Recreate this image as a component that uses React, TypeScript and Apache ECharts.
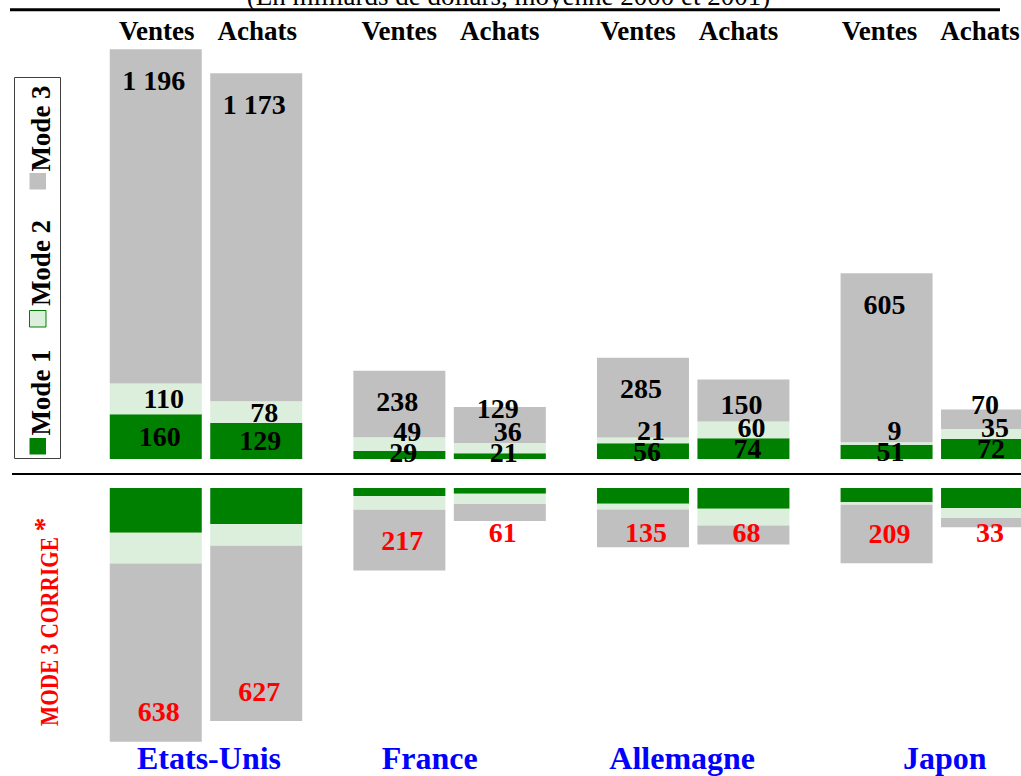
import React, { useEffect, useRef } from 'react';
import * as echarts from 'echarts';

const countries = ['Etats-Unis', 'France', 'Allemagne', 'Japon'];
const sideLabels = ['Ventes', 'Achats'];
const legendLabels = ['Mode 1', 'Mode 2', 'Mode 3'];
const ventesMode1 = [160, 29, 56, 51];
const ventesMode2 = [110, 49, 21, 9];
const ventesMode3 = [1196, 238, 285, 605];
const achatsMode1 = [129, 21, 74, 72];
const achatsMode2 = [78, 36, 60, 35];
const achatsMode3 = [1173, 129, 150, 70];
const ventesMode3Corrige = [638, 217, 135, 209];
const achatsMode3Corrige = [627, 61, 68, 33];
const titleText = '(En milliards de dollars, moyenne 2000 et 2001)';
const sideTitle = 'MODE 3 CORRIGE';

// label nudges (pixels, style only)
const headerShift = [1, 0, -5, -7];
const countryShift = [3, -20, -11, 8];

const FONT = "'Liberation Serif', 'Times New Roman', serif";
const GREEN = '#008000';
const LIGHT = '#dcefdc';
const GRAY = '#c0c0c0';
const RED = '#ff0000';
const BLUE = '#0000ff';

const fmtNum = (v: number) => {
  const s = String(v);
  return s.length > 3 ? s.slice(0, s.length - 3) + ' ' + s.slice(s.length - 3) : s;
};

const shiftWrap = (inner: string, d: number) => {
  if (d > 0) return `{sp${Math.round(2 * d)}|}${inner}`;
  if (d < 0) return `${inner}{sp${Math.round(-2 * d)}|}`;
  return inner;
};

const spacerRich = () => {
  const r: any = {};
  [...headerShift, ...countryShift].forEach((d) => {
    const w = Math.round(Math.abs(2 * d));
    if (w > 0) r['sp' + w] = { width: w, fontSize: 10 };
  });
  return r;
};

export default function App() {
  const ref = useRef<HTMLDivElement>(null);
  useEffect(() => {
    const chart = echarts.init(ref.current!, null, { renderer: 'svg' });
    const scale = 0.2795;
    const upperMax = 1600;
    const lowerMax = 1000;
    const gridLeft = 84.2;
    const gridWidth = 974.4;
    const base = 459;
    const lowerTop = 488;
    const upperHeight = upperMax * scale;
    const lowerHeight = lowerMax * scale;

    const sides = [
      { key: 'V', m1: ventesMode1, m2: ventesMode2, m3: ventesMode3, m3c: ventesMode3Corrige },
      { key: 'A', m1: achatsMode1, m2: achatsMode2, m3: achatsMode3, m3c: achatsMode3Corrige },
    ];

    const zeros = () => countries.map(() => 0);
    const offsets: any = {};
    sides.forEach((s) => {
      offsets[s.key] = { u1: zeros(), u2: zeros(), u3: zeros(), l3: zeros() };
    });

    const labelStyle = (color: string, show: boolean) => ({
      show,
      position: 'inside',
      fontFamily: FONT,
      fontWeight: 'bold',
      fontSize: 28,
      color,
      formatter: (p: any) => fmtNum(p.value),
    });

    const barSeries = (
      name: string,
      stack: string,
      grid: number,
      data: number[],
      color: string,
      labelColor: string,
      dx: number,
      offs: number[] | null,
    ) => ({
      type: 'bar',
      name,
      stack,
      xAxisIndex: grid,
      yAxisIndex: grid,
      barWidth: 92,
      barGap: '9.2%',
      silent: true,
      emphasis: { disabled: true },
      itemStyle: { color },
      label: labelStyle(labelColor, offs !== null),
      data: data.map((v, i) => ({
        value: v,
        label: offs ? { offset: [dx, offs[i]] } : undefined,
      })),
    });

    const headerTok = { width: 100.5, align: 'center', fontFamily: FONT, fontWeight: 'bold', fontSize: 27, color: '#000' };

    const buildOption = () => {
      const series: any[] = [];
      sides.forEach((s) => {
        const o = offsets[s.key];
        series.push(barSeries(legendLabels[0], 'u' + s.key, 0, s.m1, GREEN, '#000', 4, o.u1));
        series.push(barSeries(legendLabels[1], 'u' + s.key, 0, s.m2, LIGHT, '#000', 8, o.u2));
        series.push(barSeries(legendLabels[2], 'u' + s.key, 0, s.m3, GRAY, '#000', -2, o.u3));
      });
      sides.forEach((s) => {
        const o = offsets[s.key];
        series.push(barSeries(legendLabels[0], 'l' + s.key, 1, s.m1, GREEN, RED, 0, null));
        series.push(barSeries(legendLabels[1], 'l' + s.key, 1, s.m2, LIGHT, RED, 0, null));
        series.push(barSeries(legendLabels[2], 'l' + s.key, 1, s.m3c, GRAY, RED, 3, o.l3));
      });

      const legendItems: any[] = [];
      const sq = [
        { y: 438, fill: GREEN, stroke: null, ty: 392.5 },
        { y: 310.5, fill: LIGHT, stroke: GREEN, ty: 263 },
        { y: 173, fill: GRAY, stroke: null, ty: 128.5 },
      ];
      sq.forEach((q, i) => {
        legendItems.push({
          type: 'rect',
          shape: { x: 29.5, y: q.y, width: 16.5, height: 16.5 },
          style: { fill: q.fill, stroke: q.stroke || undefined, lineWidth: q.stroke ? 1 : 0 },
          silent: true,
        });
        legendItems.push({
          type: 'text',
          x: 41,
          y: q.ty,
          rotation: Math.PI / 2,
          style: {
            text: legendLabels[i],
            fontFamily: FONT,
            fontWeight: 'bold',
            fontSize: 27,
            fill: '#000',
            align: 'center',
            verticalAlign: 'middle',
          },
          silent: true,
        });
      });

      return {
        animation: false,
        backgroundColor: '#ffffff',
        grid: [
          { left: gridLeft, width: gridWidth, top: base - upperHeight, height: upperHeight, outerBoundsMode: 'none', containLabel: false },
          { left: gridLeft, width: gridWidth, top: lowerTop, height: lowerHeight, outerBoundsMode: 'none', containLabel: false },
        ],
        xAxis: [
          {
            type: 'category',
            gridIndex: 0,
            position: 'top',
            data: countries,
            axisLine: { show: false },
            axisTick: { show: false },
            splitLine: { show: false },
            axisLabel: {
              interval: 0,
              margin: -19,
              verticalAlign: 'middle',
              formatter: (_v: string, idx: number) =>
                shiftWrap(`{v|${sideLabels[0]}}{a|${sideLabels[1]}}`, headerShift[idx]),
              rich: { v: headerTok, a: headerTok, ...spacerRich() },
            },
          },
          {
            type: 'category',
            gridIndex: 1,
            position: 'bottom',
            data: countries,
            axisLine: { show: false, onZero: false },
            axisTick: { show: false },
            splitLine: { show: false },
            axisLabel: {
              interval: 0,
              margin: -10,
              verticalAlign: 'middle',
              formatter: (v: string, idx: number) => shiftWrap(`{c|${v}}`, countryShift[idx]),
              rich: {
                c: { fontFamily: FONT, fontWeight: 'bold', fontSize: 32, color: BLUE },
                ...spacerRich(),
              },
            },
          },
        ],
        yAxis: [
          { type: 'value', gridIndex: 0, min: 0, max: upperMax, show: false, splitLine: { show: false } },
          { type: 'value', gridIndex: 1, min: 0, max: lowerMax, inverse: true, show: false, splitLine: { show: false } },
        ],
        series,
        graphic: [
          {
            type: 'text',
            x: 508.5,
            y: -4.1,
            style: {
              text: titleText,
              fontFamily: FONT,
              fontSize: 27,
              fill: '#000',
              align: 'center',
              verticalAlign: 'middle',
            },
            silent: true,
          },
          {
            type: 'line',
            shape: { x1: 10, y1: 9.7, x2: 1000, y2: 9.7 },
            style: { stroke: '#000', lineWidth: 3 },
            silent: true,
          },
          {
            type: 'line',
            shape: { x1: 12, y1: 474, x2: 1021, y2: 474 },
            style: { stroke: '#000', lineWidth: 2 },
            silent: true,
          },
          {
            type: 'rect',
            shape: { x: 14.5, y: 77.5, width: 46, height: 381 },
            style: { fill: '#fff', stroke: '#404040', lineWidth: 1 },
            silent: true,
          },
          ...legendItems,
          {
            type: 'text',
            x: 49,
            y: 631.5,
            rotation: Math.PI / 2,
            scaleX: 0.85,
            style: {
              text: sideTitle,
              fontFamily: FONT,
              fontWeight: 'bold',
              fontSize: 25,
              fill: RED,
              align: 'center',
              verticalAlign: 'middle',
            },
            silent: true,
          },
          {
            type: 'text',
            x: 43,
            y: 524.5,
            rotation: Math.PI / 2,
            style: {
              text: '*',
              fontFamily: FONT,
              fontWeight: 'bold',
              fontSize: 28,
              fill: RED,
              align: 'center',
              verticalAlign: 'middle',
            },
            silent: true,
          },
        ],
      };
    };

    chart.setOption(buildOption() as any);

    const py = (g: number, v: number) => (chart.convertToPixel({ gridIndex: g } as any, [0, v]) as number[])[1];
    sides.forEach((s) => {
      const o = offsets[s.key];
      countries.forEach((_, i) => {
        const y0 = py(0, 0);
        const y1 = py(0, s.m1[i]);
        const y2 = py(0, s.m1[i] + s.m2[i]);
        const y3 = py(0, s.m1[i] + s.m2[i] + s.m3[i]);
        const c1 = (y0 + y1) / 2;
        const L1 = Math.min(c1, y0 - 7);
        const c2 = (y1 + y2) / 2;
        const L2 = Math.min(c2, L1 - 21);
        const c3 = (y2 + y3) / 2;
        const L3 = Math.min(y3 + 31, L2 - 23);
        o.u1[i] = L1 - c1;
        o.u2[i] = L2 - c2;
        o.u3[i] = L3 - c3;
        const b0 = py(1, 0);
        const b2 = py(1, s.m1[i] + s.m2[i]);
        const b3 = py(1, s.m1[i] + s.m2[i] + s.m3c[i]);
        const cl = (b2 + b3) / 2;
        const Ll = Math.max(b3 - 30, b0 + 44);
        o.l3[i] = Ll - cl;
      });
    });
    chart.setOption(buildOption() as any, { notMerge: true });

    return () => {
      chart.dispose();
    };
  }, []);

  return (
    <div
      ref={ref}
      style={{ position: 'absolute', left: 0, top: 0, width: 1021, height: 776, background: '#fff' }}
    />
  );
}
